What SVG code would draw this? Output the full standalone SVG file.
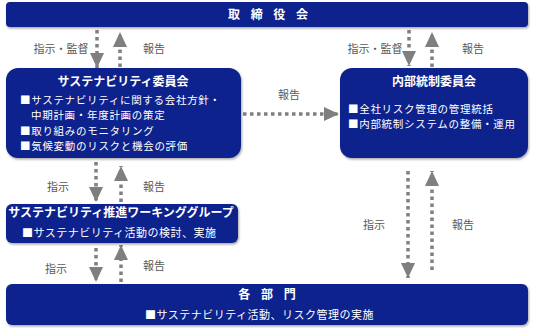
<svg xmlns="http://www.w3.org/2000/svg" width="548" height="328" viewBox="0 0 548 328">
<defs>
<filter id="sh" x="-5%" y="-20%" width="110%" height="140%">
<feDropShadow dx="1" dy="1.5" stdDeviation="1" flood-color="#000" flood-opacity="0.35"/>
</filter>
<marker id="ah" viewBox="0 0 15 14" refX="15" refY="7" markerWidth="15" markerHeight="14" markerUnits="userSpaceOnUse" orient="auto">
<path d="M0,0 L15,7 L0,14 z" fill="#7f7f7f"/>
</marker>
<style>
.box{fill:#0f238c;filter:url(#sh)}
.t{font-family:"Noto Sans CJK JP","Noto Sans",sans-serif;fill:#fff}
.title{font-size:12px;font-weight:bold;text-anchor:middle}
.b{font-size:11px;letter-spacing:0.5px}
.bs{font-size:10.5px;letter-spacing:0.7px}
.lbl{font-family:"Noto Sans CJK JP","Noto Sans",sans-serif;font-size:11px;fill:#595959;text-anchor:middle}
.ar{stroke:#7f7f7f;stroke-width:3.5;stroke-dasharray:3.5 3.5;fill:none;marker-end:url(#ah)}
</style>
</defs>
<g id="connectors">
<path class="ar" d="M97,30 V68"/>
<path class="ar" d="M120,67 V32"/>
<path class="ar" d="M409,30 V66"/>
<path class="ar" d="M432,67 V32"/>
<path class="ar" d="M243,114 H339"/>
<path class="ar" d="M96,162 V202"/>
<path class="ar" d="M121,202 V166"/>
<path class="ar" d="M96,248 V282"/>
<path class="ar" d="M121,282 V245"/>
<path class="ar" d="M408,171 V278"/>
<path class="ar" d="M432,270 V171"/>
<text class="lbl" x="61" y="53">指示・監督</text>
<text class="lbl" x="154" y="53">報告</text>
<text class="lbl" x="375" y="53">指示・監督</text>
<text class="lbl" x="473" y="53">報告</text>
<text class="lbl" x="289" y="99">報告</text>
<text class="lbl" x="58" y="191">指示</text>
<text class="lbl" x="154" y="191">報告</text>
<text class="lbl" x="56" y="273">指示</text>
<text class="lbl" x="154" y="270">報告</text>
<text class="lbl" x="374" y="229">指示</text>
<text class="lbl" x="463" y="229">報告</text>
</g>
<g id="board">
<rect class="box" x="6" y="2" width="522" height="25" rx="4"/>
<text class="t title" x="270" y="19" letter-spacing="4">取 締 役 会</text>
</g>
<g id="sustainability-committee">
<rect class="box" x="6" y="68" width="235" height="90" rx="12"/>
<text class="t title" x="123" y="86">サステナビリティ委員会</text>
<text class="t bs" x="20" y="104">■サステナビリティに関する会社方針・</text>
<text class="t bs" x="31" y="119.3">中期計画・年度計画の策定</text>
<text class="t bs" x="20" y="134.6">■取り組みのモニタリング</text>
<text class="t bs" x="20" y="149.9">■気候変動のリスクと機会の評価</text>
</g>
<g id="internal-control-committee">
<rect class="box" x="340" y="68" width="188" height="90" rx="12"/>
<text class="t title" x="434" y="86">内部統制委員会</text>
<text class="t bs" x="348" y="112.5">■全社リスク管理の管理統括</text>
<text class="t bs" x="348" y="127.8">■内部統制システムの整備・運用</text>
</g>
<g id="working-group">
<rect class="box" x="6" y="204" width="232" height="39" rx="6"/>
<text class="t title" x="121" y="217">サステナビリティ推進ワーキンググループ</text>
<text class="t b" x="22" y="237">■サステナビリティ活動の検討、実施</text>
</g>
<g id="departments">
<rect class="box" x="6" y="284" width="522" height="41" rx="6"/>
<text class="t title" x="269" y="299" letter-spacing="4">各 部 門</text>
<text class="t b" x="145" y="319">■サステナビリティ活動、リスク管理の実施</text>
</g>
</svg>
